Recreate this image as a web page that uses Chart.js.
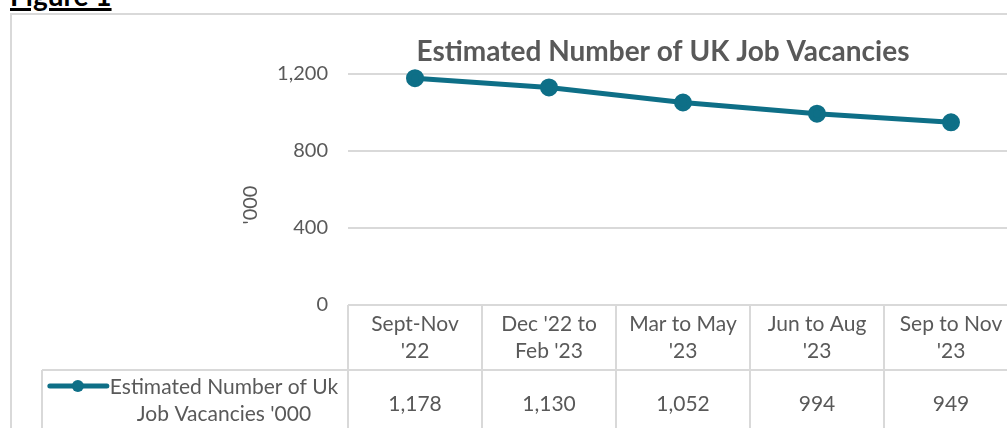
<!DOCTYPE html>
<html lang="en">
<head>
  <meta charset="UTF-8" />
  <title>Estimated Number of UK Job Vacancies</title>
  <style>
    body {
      margin: 0;
      padding: 0;
      width: 1007px;
      height: 428px;
      overflow: hidden;
      background: #fff;
      font-family: Lato, "Open Sans", sans-serif;
      position: relative;
    }

    .figure-label {
      position: absolute;
      left: 10px;
      top: -22px;
      font-size: 28px;
      font-weight: bold;
      text-decoration: underline;
      text-decoration-thickness: 3px;
      color: #000;
      margin: 0;
    }

    .frame {
      position: absolute;
      left: 10px;
      top: 13px;
      width: 1100px;
      height: 500px;
      border-top: 2px solid #d9d9d9;
      border-left: 2px solid #d9d9d9;
    }

    .chart-box {
      position: absolute;
      left: 0;
      top: 0;
      width: 1030px;
      height: 445px;
    }
  </style>
</head>
<body>
  <p class="figure-label">Figure 1</p>
  <div class="frame"></div>
  <div class="chart-box">
    <canvas id="vacancies"></canvas>
  </div>

  <script src="https://cdn.jsdelivr.net/npm/chart.js"></script>
  <script>
    const periods = [
      ['Sept-Nov', "'22"],
      ["Dec '22 to", "Feb '23"],
      ['Mar to May', "'23"],
      ['Jun to Aug', "'23"],
      ['Sep to Nov', "'23"],
    ];
    const vacancies = [1178, 1130, 1052, 994, 949];
    const yTicks = [0, 400, 800, 1200];
    const chartTitle = 'Estimated Number of UK Job Vacancies';
    const yTitle = "'000";
    const seriesName = ['Estimated Number of Uk', "Job Vacancies '000"];

    const textColor = '#595959';
    const gridColor = '#d9d9d9';
    const lineColor = '#0e6f87';
    const fontFamily = 'Lato, "Open Sans", sans-serif';

    // draws the title, y title and the Excel-style data table under the plot
    const tablePlugin = {
      id: 'dataTable',
      afterDraw(chart) {
        const { ctx, chartArea } = chart;
        const x = chart.scales.x;
        const step = x.getPixelForValue(1) - x.getPixelForValue(0);
        const left = x.getPixelForValue(0) - step / 2;
        const right = x.getPixelForValue(periods.length - 1) + step / 2;
        const top = chartArea.bottom;
        const headerBottom = top + 65;
        const bottom = chart.height;
        const legendLeft = 42;

        ctx.save();
        ctx.strokeStyle = gridColor;
        ctx.lineWidth = 2;
        ctx.beginPath();
        // vertical separators
        for (let i = 0; i <= periods.length; i++) {
          const px = Math.round(left + i * step);
          ctx.moveTo(px, top);
          ctx.lineTo(px, bottom);
        }
        // header / data row separator
        ctx.moveTo(legendLeft, headerBottom);
        ctx.lineTo(right, headerBottom);
        // legend cell left edge
        ctx.moveTo(legendLeft, headerBottom);
        ctx.lineTo(legendLeft, bottom);
        ctx.stroke();

        ctx.fillStyle = textColor;
        ctx.textAlign = 'center';
        ctx.textBaseline = 'middle';
        ctx.font = `21px ${fontFamily}`;
        periods.forEach((lines, i) => {
          const cx = x.getPixelForValue(i);
          ctx.fillText(lines[0], cx, top + 19);
          ctx.fillText(lines[1], cx, top + 46);
          ctx.fillText(vacancies[i].toLocaleString('en-GB'), cx, headerBottom + 34);
        });

        // legend cell
        const labelCenter = 224;
        const w0 = ctx.measureText(seriesName[0]).width;
        ctx.fillText(seriesName[0], labelCenter, headerBottom + 17);
        ctx.fillText(seriesName[1], labelCenter, headerBottom + 44);
        const keyRight = labelCenter - w0 / 2 - 3;
        const keyY = headerBottom + 16;
        ctx.strokeStyle = lineColor;
        ctx.lineWidth = 5;
        ctx.lineCap = 'round';
        ctx.beginPath();
        ctx.moveTo(keyRight - 57, keyY);
        ctx.lineTo(keyRight, keyY);
        ctx.stroke();
        ctx.fillStyle = lineColor;
        ctx.beginPath();
        ctx.arc(keyRight - 29, keyY, 6, 0, Math.PI * 2);
        ctx.fill();

        // y axis title, reading upwards
        ctx.fillStyle = textColor;
        ctx.font = `20px ${fontFamily}`;
        ctx.save();
        ctx.translate(251, 205);
        ctx.rotate(-Math.PI / 2);
        ctx.fillText(yTitle, 0, 0);
        ctx.restore();

        // chart title
        ctx.font = `bold 28px ${fontFamily}`;
        ctx.fillText(chartTitle, 663, 52);
        ctx.restore();
      },
    };

    new Chart(document.getElementById('vacancies'), {
      type: 'line',
      data: {
        labels: periods,
        datasets: [
          {
            label: seriesName.join(' '),
            data: vacancies,
            borderColor: lineColor,
            backgroundColor: lineColor,
            borderWidth: 5,
            pointRadius: 6.5,
            pointHoverRadius: 6.5,
            tension: 0,
            clip: false,
          },
        ],
      },
      options: {
        responsive: true,
        maintainAspectRatio: false,
        animation: false,
        events: [],
        layout: {
          padding: { left: 230, right: 12, top: 74, bottom: 140 },
        },
        plugins: {
          legend: { display: false },
          title: { display: false },
          tooltip: { enabled: false },
        },
        scales: {
          x: {
            display: false,
            offset: true,
          },
          y: {
            min: 0,
            max: 1200,
            afterBuildTicks(scale) {
              scale.ticks = yTicks.map((v) => ({ value: v }));
            },
            afterFit(scale) {
              scale.width = 118;
            },
            border: { display: false },
            grid: {
              color: gridColor,
              lineWidth: 2,
              drawTicks: false,
            },
            ticks: {
              color: textColor,
              padding: 20,
              font: { family: fontFamily, size: 20 },
              callback: (v) => v.toLocaleString('en-GB'),
            },
          },
        },
      },
      plugins: [tablePlugin],
    });
  </script>
</body>
</html>
